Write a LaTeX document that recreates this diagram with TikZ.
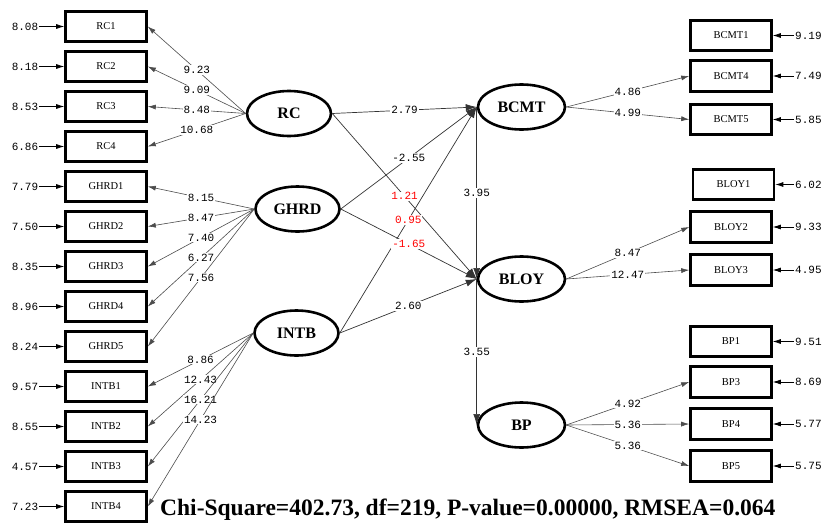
\documentclass[tikz,border=0pt]{standalone}
\usepackage{fontspec}
\setmainfont{Liberation Serif}
\setmonofont{Liberation Mono}
\usetikzlibrary{arrows.meta}
\usetikzlibrary{shapes.geometric}

\begin{document}
\begin{tikzpicture}[x=1pt, y=-1pt,
	obsBox/.style={draw=black, line width=2.6pt, minimum width=81pt, minimum height=30.5pt, inner sep=0pt, font=\fontsize{10.5}{11}\selectfont},
	latEll/.style={ellipse, draw=black, line width=2.6pt, minimum width=84pt, minimum height=45pt, inner sep=0pt, font=\fontsize{16}{18}\selectfont\bfseries},
	errLab/.style={font=\fontsize{11}{11}\ttfamily, inner sep=1pt},
	pathLab/.style={font=\fontsize{11}{11}\ttfamily, fill=white, inner sep=1pt},
	redLab/.style={pathLab, text=red},
	loadLine/.style={draw=black!70, line width=0.6pt, -{Latex[length=8pt,width=5pt]}},
	errArrow/.style={draw=black, line width=0.7pt, -{Latex[length=8pt,width=5pt]}},
	structLine/.style={draw=black!80, line width=0.7pt, -{Latex[length=11pt,width=7pt]}},
]

	%declare constants
	\def\obsLeftX{106}
	\def\obsRightX{731}
	\def\errLeftX{25}
	\def\errRightX{794}

	%page frame, same size as the original output
	\useasboundingbox (0,0) rectangle (826,522);

	%exogenous latent variables
	\node[latEll] (latRC) at (289,113.5) {RC};
	\node[latEll] (latGHRD) at (297.5,209) {GHRD};
	\node[latEll] (latINTB) at (296.5,333) {INTB};

	%endogenous latent variables
	\node[latEll, minimum width=87pt] (latBCMT) at (521.5,107) {BCMT};
	\node[latEll, minimum width=87pt] (latBLOY) at (521.5,279) {BLOY};
	\node[latEll, minimum width=87pt] (latBP) at (521.5,425) {BP};

	%left indicators
	\node[obsBox] (obsRC1) at (\obsLeftX,26.5) {RC1};
	\node[obsBox] (obsRC2) at (\obsLeftX,66.5) {RC2};
	\node[obsBox] (obsRC3) at (\obsLeftX,106.5) {RC3};
	\node[obsBox] (obsRC4) at (\obsLeftX,146.5) {RC4};
	\node[obsBox] (obsGHRD1) at (\obsLeftX,186.5) {GHRD1};
	\node[obsBox] (obsGHRD2) at (\obsLeftX,226.5) {GHRD2};
	\node[obsBox] (obsGHRD3) at (\obsLeftX,266.5) {GHRD3};
	\node[obsBox] (obsGHRD4) at (\obsLeftX,306.5) {GHRD4};
	\node[obsBox] (obsGHRD5) at (\obsLeftX,346.5) {GHRD5};
	\node[obsBox] (obsINTB1) at (\obsLeftX,386.5) {INTB1};
	\node[obsBox] (obsINTB2) at (\obsLeftX,426.5) {INTB2};
	\node[obsBox] (obsINTB3) at (\obsLeftX,466.5) {INTB3};
	\node[obsBox] (obsINTB4) at (\obsLeftX,506.5) {INTB4};

	%right indicators
	\node[obsBox] (obsBCMT1) at (\obsRightX,35.5) {BCMT1};
	\node[obsBox] (obsBCMT4) at (\obsRightX,76) {BCMT4};
	\node[obsBox] (obsBCMT5) at (\obsRightX,119.5) {BCMT5};
	\node[obsBox] (obsBLOY1) at (733.5,184.5) {BLOY1};
	\node[obsBox] (obsBLOY2) at (\obsRightX,227) {BLOY2};
	\node[obsBox] (obsBLOY3) at (\obsRightX,270) {BLOY3};
	\node[obsBox] (obsBP1) at (\obsRightX,341.5) {BP1};
	\node[obsBox] (obsBP3) at (\obsRightX,382) {BP3};
	\node[obsBox] (obsBP4) at (\obsRightX,424) {BP4};
	\node[obsBox] (obsBP5) at (\obsRightX,466) {BP5};

	%error variances, left side
	\node[errLab] (errRC1) at (\errLeftX,26.5) {8.08};
	\node[errLab] (errRC2) at (\errLeftX,66.5) {8.18};
	\node[errLab] (errRC3) at (\errLeftX,106.5) {8.53};
	\node[errLab] (errRC4) at (\errLeftX,146.5) {6.86};
	\node[errLab] (errGHRD1) at (\errLeftX,186.5) {7.79};
	\node[errLab] (errGHRD2) at (\errLeftX,226.5) {7.50};
	\node[errLab] (errGHRD3) at (\errLeftX,266.5) {8.35};
	\node[errLab] (errGHRD4) at (\errLeftX,306.5) {8.96};
	\node[errLab] (errGHRD5) at (\errLeftX,346.5) {8.24};
	\node[errLab] (errINTB1) at (\errLeftX,386.5) {9.57};
	\node[errLab] (errINTB2) at (\errLeftX,426.5) {8.55};
	\node[errLab] (errINTB3) at (\errLeftX,466.5) {4.57};
	\node[errLab] (errINTB4) at (\errLeftX,506.5) {7.23};
	\draw[errArrow] (errRC1) -- (obsRC1);
	\draw[errArrow] (errRC2) -- (obsRC2);
	\draw[errArrow] (errRC3) -- (obsRC3);
	\draw[errArrow] (errRC4) -- (obsRC4);
	\draw[errArrow] (errGHRD1) -- (obsGHRD1);
	\draw[errArrow] (errGHRD2) -- (obsGHRD2);
	\draw[errArrow] (errGHRD3) -- (obsGHRD3);
	\draw[errArrow] (errGHRD4) -- (obsGHRD4);
	\draw[errArrow] (errGHRD5) -- (obsGHRD5);
	\draw[errArrow] (errINTB1) -- (obsINTB1);
	\draw[errArrow] (errINTB2) -- (obsINTB2);
	\draw[errArrow] (errINTB3) -- (obsINTB3);
	\draw[errArrow] (errINTB4) -- (obsINTB4);

	%error variances, right side
	\node[errLab, anchor=west] (errBCMT1) at (\errRightX,35.5) {9.19};
	\node[errLab, anchor=west] (errBCMT4) at (\errRightX,76) {7.49};
	\node[errLab, anchor=west] (errBCMT5) at (\errRightX,119.5) {5.85};
	\node[errLab, anchor=west] (errBLOY1) at (\errRightX,184.5) {6.02};
	\node[errLab, anchor=west] (errBLOY2) at (\errRightX,227) {9.33};
	\node[errLab, anchor=west] (errBLOY3) at (\errRightX,270) {4.95};
	\node[errLab, anchor=west] (errBP1) at (\errRightX,341.5) {9.51};
	\node[errLab, anchor=west] (errBP3) at (\errRightX,382) {8.69};
	\node[errLab, anchor=west] (errBP4) at (\errRightX,424) {5.77};
	\node[errLab, anchor=west] (errBP5) at (\errRightX,466) {5.75};
	\draw[errArrow] (errBCMT1) -- (obsBCMT1);
	\draw[errArrow] (errBCMT4) -- (obsBCMT4);
	\draw[errArrow] (errBCMT5) -- (obsBCMT5);
	\draw[errArrow] (errBLOY1) -- (obsBLOY1);
	\draw[errArrow] (errBLOY2) -- (obsBLOY2);
	\draw[errArrow] (errBLOY3) -- (obsBLOY3);
	\draw[errArrow] (errBP1) -- (obsBP1);
	\draw[errArrow] (errBP3) -- (obsBP3);
	\draw[errArrow] (errBP4) -- (obsBP4);
	\draw[errArrow] (errBP5) -- (obsBP5);

	%loadings of the exogenous constructs, all leave from the west point
	\draw[loadLine] (latRC.west) -- node[pathLab] {9.23} (obsRC1.east);
	\draw[loadLine] (latRC.west) -- node[pathLab] {9.09} (obsRC2.east);
	\draw[loadLine] (latRC.west) -- node[pathLab] {8.48} (obsRC3.east);
	\draw[loadLine] (latRC.west) -- node[pathLab] {10.68} (obsRC4.east);
	\draw[loadLine] (latGHRD.west) -- node[pathLab] {8.15} (obsGHRD1.east);
	\draw[loadLine] (latGHRD.west) -- node[pathLab] {8.47} (obsGHRD2.east);
	\draw[loadLine] (latGHRD.west) -- node[pathLab] {7.40} (obsGHRD3.east);
	\draw[loadLine] (latGHRD.west) -- node[pathLab] {6.27} (obsGHRD4.east);
	\draw[loadLine] (latGHRD.west) -- node[pathLab] {7.56} (obsGHRD5.east);
	\draw[loadLine] (latINTB.west) -- node[pathLab] {8.86} (obsINTB1.east);
	\draw[loadLine] (latINTB.west) -- node[pathLab] {12.43} (obsINTB2.east);
	\draw[loadLine] (latINTB.west) -- node[pathLab] {16.21} (obsINTB3.east);
	\draw[loadLine] (latINTB.west) -- node[pathLab] {14.23} (obsINTB4.east);

	%loadings of the endogenous constructs, leave from the east point
	\draw[loadLine] (latBCMT.east) -- node[pathLab] {4.86} (obsBCMT4.west);
	\draw[loadLine] (latBCMT.east) -- node[pathLab] {4.99} (obsBCMT5.west);
	\draw[loadLine] (latBLOY.east) -- node[pathLab] {8.47} (obsBLOY2.west);
	\draw[loadLine] (latBLOY.east) -- node[pathLab] {12.47} (obsBLOY3.west);
	\draw[loadLine] (latBP.east) -- node[pathLab] {4.92} (obsBP3.west);
	\draw[loadLine] (latBP.east) -- node[pathLab] {5.36} (obsBP4.west);
	\draw[loadLine] (latBP.east) -- node[pathLab] {5.36} (obsBP5.west);

	%structural paths, non significant ones are marked red
	\draw[structLine] (latRC.east) -- node[pathLab] {2.79} (latBCMT.west);
	\draw[structLine] (latRC.east) -- node[redLab] {1.21} (latBLOY.west);
	\draw[structLine] (latGHRD.east) -- node[pathLab] {-2.55} (latBCMT.west);
	\draw[structLine] (latINTB.east) -- node[redLab] {0.95} (latBCMT.west);
	\draw[structLine] (latGHRD.east) -- node[redLab] {-1.65} (latBLOY.west);
	\draw[structLine] (latINTB.east) -- node[pathLab] {2.60} (latBLOY.west);
	\draw[structLine] (latBCMT.west) -- node[pathLab] {3.95} (latBLOY.west);
	\draw[structLine] (latBLOY.west) -- node[pathLab] {3.55} (latBP.west);

	%goodness of fit line
	\node[anchor=base west, inner sep=0pt, font=\fontsize{23.5}{25}\selectfont\bfseries] (fitStats) at (160,515) {Chi-Square=402.73, df=219, P-value=0.00000, RMSEA=0.064};

\end{tikzpicture}
\end{document}
